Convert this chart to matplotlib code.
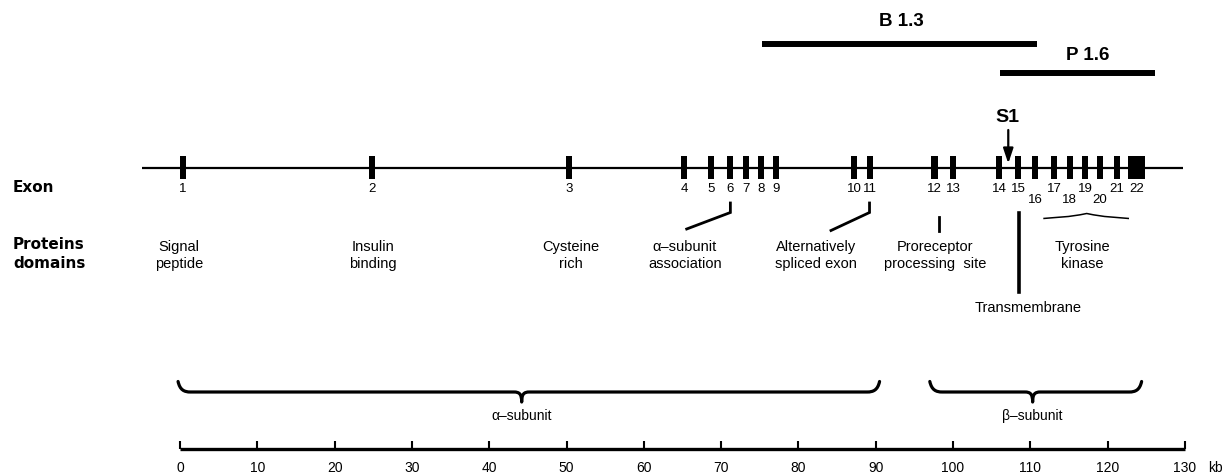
import matplotlib
matplotlib.use("Agg")
import matplotlib.pyplot as plt
from matplotlib.path import Path
from matplotlib.patches import PathPatch

plt.rcParams['font.family'] = ['Liberation Sans', 'DejaVu Sans']

# ---------------- data ----------------
exon_numbers = list(range(1, 23))
exon_kb = [0.35, 24.8, 50.3, 65.2, 68.7, 71.1, 73.2, 75.2, 77.1, 87.2, 89.3,
           97.6, 100.0, 106.0, 108.4, 110.6, 113.1, 115.1, 117.1, 119.0, 121.2, 123.75]
exon_width_kb = [0.8] * 21 + [2.15]
lowered_labels = [16, 18, 20]

gene_start_kb, gene_end_kb = -4.9, 129.8

probe_names = ['B 1.3', 'P 1.6']
probe_start_kb = [75.3, 106.1]
probe_end_kb = [110.9, 126.1]

s1_kb = 107.15

domain_names = ['Signal\npeptide', 'Insulin\nbinding', 'Cysteine\nrich',
                'α–subunit\nassociation', 'Alternatively\nspliced exon',
                'Proreceptor\nprocessing  site', 'Tyrosine\nkinase']
domain_kb = [-0.1, 25.0, 50.6, 65.3, 82.3, 97.7, 116.7]

subunit_names = ['α–subunit', 'β–subunit']
subunit_start_kb = [-0.25, 97.0]
subunit_end_kb = [90.5, 124.4]
subunit_tip_kb = [44.2, 110.3]

scale_ticks = list(range(0, 131, 10))
scale_unit = 'kb'

# ---------------- layout ----------------
PX_PER_KB = 7.73
X0 = 180.0
W, H = 1224, 476

fig = plt.figure(figsize=(W / 100, H / 100), dpi=100)
ax = fig.add_axes([0, 0, 1, 1])
ax.set_xlim(-X0 / PX_PER_KB, (W - X0) / PX_PER_KB)
ax.set_ylim(H, 0)
ax.axis('off')

def kb(px):
    return (px - X0) / PX_PER_KB

K = 'black'

# gene line
GENE_Y = 168
ax.plot([gene_start_kb, gene_end_kb], [GENE_Y, GENE_Y], color=K, lw=1.6,
        solid_capstyle='butt', zorder=2)

# exons
ax.bar(exon_kb, [23.5] * len(exon_kb), width=exon_width_kb, bottom=155.5,
       color=K, edgecolor=K, linewidth=0, zorder=3)
for n, x in zip(exon_numbers, exon_kb):
    y = 200 if n in lowered_labels else 189
    ax.text(x, y, str(n), ha='center', va='center', fontsize=9.5, color=K)

# probes
probe_y = [43.5, 72.5]
label_y = [21.5, 56]
for name, s, e, yb, yl in zip(probe_names, probe_start_kb, probe_end_kb, probe_y, label_y):
    ax.plot([s, e], [yb, yb], color=K, lw=4.3, solid_capstyle='butt')
    ax.text((s + e) / 2 + (0.2 if name.startswith('B') else 1.3), yl, name,
            ha='center', va='center', fontsize=13.5, fontweight='bold', color=K)

# S1 arrow
ax.text(s1_kb - 0.15, 118, 'S1', ha='center', va='center', fontsize=14,
        fontweight='bold', color=K)
ax.annotate('', xy=(s1_kb, 163.5), xytext=(s1_kb, 130),
            arrowprops=dict(arrowstyle='-|>,head_length=0.9,head_width=0.3',
                            color=K, lw=1.6, shrinkA=0, shrinkB=0))

# left labels
ax.text(kb(13), 188, 'Exon', ha='left', va='center', fontsize=11,
        fontweight='bold', family='DejaVu Sans', color=K)
ax.text(kb(13), 254, 'Proteins\ndomains', ha='left', va='center', fontsize=11,
        fontweight='bold', family='DejaVu Sans', color=K, linespacing=1.35)

# domain labels
for name, x in zip(domain_names, domain_kb):
    ax.text(x, 255.5, name, ha='center', va='center', fontsize=10.5, color=K,
            linespacing=1.35)
ax.text(kb(1028), 308, 'Transmembrane', ha='center', va='center', fontsize=10.5, color=K)

# connector lines
lw_c = 2.0
ax.plot([exon_kb[5] + 0.1, exon_kb[5] + 0.1, kb(686.7)], [203, 212.5, 229],
        color=K, lw=lw_c, solid_joinstyle='miter')
ax.plot([exon_kb[10] - 0.1, exon_kb[10] - 0.1, kb(831)], [203, 212.5, 230.5],
        color=K, lw=lw_c, solid_joinstyle='miter')
ax.plot([kb(939.3), kb(939.3)], [216.5, 231], color=K, lw=lw_c)
ax.plot([kb(1019), kb(1019)], [212.5, 292], color=K, lw=2.6)

# tyrosine kinase brace (small, tip up)
xa, xb, xm = kb(1043.3), kb(1129), kb(1086.7)
verts = [(xa, 218.5), (xa + 2, 217), (xm - 2.5, 217.5), (xm, 213.5),
         (xm + 2.5, 217.5), (xb - 2, 217), (xb, 218.5)]
codes = [Path.MOVETO, Path.CURVE4, Path.CURVE4, Path.CURVE4,
         Path.CURVE4, Path.CURVE4, Path.CURVE4]
ax.add_patch(PathPatch(Path(verts, codes), fill=False, lw=1.1, color=K))

# subunit braces (tips down)
def brace(x0, x1, xm, y, up=10.5, down=10, r=1.6, r2=1.0, lw=2.3):
    v = [(x0, y - up),
         (x0 + 0.15 * r, y - 2), (x0 + 0.5 * r, y), (x0 + r, y),
         (xm - r2, y),
         (xm - 0.3 * r2, y), (xm, y + 2), (xm, y + down),
         (xm, y + 2), (xm + 0.3 * r2, y), (xm + r2, y),
         (x1 - r, y),
         (x1 - 0.5 * r, y), (x1 - 0.15 * r, y - 2), (x1, y - up)]
    c = [Path.MOVETO,
         Path.CURVE4, Path.CURVE4, Path.CURVE4,
         Path.LINETO,
         Path.CURVE4, Path.CURVE4, Path.CURVE4,
         Path.CURVE4, Path.CURVE4, Path.CURVE4,
         Path.LINETO,
         Path.CURVE4, Path.CURVE4, Path.CURVE4]
    ax.add_patch(PathPatch(Path(v, c), fill=False, lw=lw, color=K,
                           capstyle='round', joinstyle='round'))

for name, s, e, t in zip(subunit_names, subunit_start_kb, subunit_end_kb, subunit_tip_kb):
    brace(s, e, t, 392)
    ax.text(t, 416, name, ha='center', va='center', fontsize=10, color=K)

# scale bar
SCALE_Y = 449
ax.plot([scale_ticks[0], scale_ticks[-1]], [SCALE_Y, SCALE_Y], color=K, lw=2.4,
        solid_capstyle='butt')
ax.vlines(scale_ticks, 440.5, SCALE_Y, color=K, lw=1.5)
for t in scale_ticks:
    ax.text(t, 468, str(t), ha='center', va='center', fontsize=10, color=K)
ax.text(kb(1215), 468, scale_unit, ha='center', va='center', fontsize=10, color=K)

fig.savefig('out.png', dpi=100, facecolor='white')
